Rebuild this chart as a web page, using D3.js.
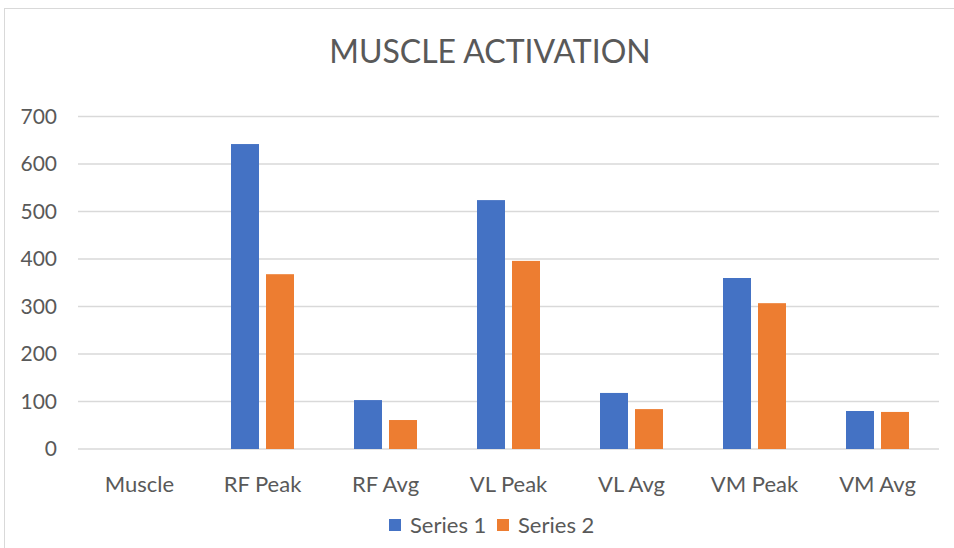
<!DOCTYPE html>
<html>
<head>
<meta charset="utf-8">
<script src="https://cdn.jsdelivr.net/npm/d3@7"></script>
<style>
  body { margin: 0; background: #fff; }
  svg { display: block; font-family: Lato, "Open Sans", sans-serif; }
</style>
</head>
<body>
<div id="chart"></div>
<script>
// data
const categories = ["Muscle", "RF Peak", "RF Avg", "VL Peak", "VL Avg", "VM Peak", "VM Avg"];
const series1 = [null, 642, 103, 524, 118, 360, 80];
const series2 = [null, 368, 61, 396, 84, 307, 78];
const seriesNames = ["Series 1", "Series 2"];
const yTicks = [0, 100, 200, 300, 400, 500, 600, 700];

const W = 954, H = 548;
const margin = { top: 116.5, left: 78, right: 15, bottom: 99 };
const width = W - margin.left - margin.right,
  height = H - margin.top - margin.bottom;

const svg = d3.select("#chart").append("svg")
  .attr("width", W)
  .attr("height", H);

// chart border
svg.append("rect")
  .attr("x", 4.5).attr("y", 8.5)
  .attr("width", W + 20).attr("height", H + 20)
  .attr("fill", "none")
  .attr("stroke", "#d9d9d9");

svg.append("text")
  .attr("x", 490).attr("y", 63)
  .attr("text-anchor", "middle")
  .attr("fill", "#595959")
  .attr("font-size", 32)
  .text("MUSCLE ACTIVATION");

const g = svg.append("g").attr("transform", `translate(${margin.left},${margin.top})`);

const x = d3.scaleBand().domain(categories).range([0, width])
  .paddingInner(60 / 123).paddingOuter(30 / 123);
const xSub = d3.scaleBand().domain(seriesNames).range([0, x.bandwidth()]).paddingInner(0.2);
const y = d3.scaleLinear().domain([0, 700]).range([height, 0]);
const color = d3.scaleOrdinal().domain(seriesNames).range(["#4472c4", "#ed7d31"]);

// gridlines
g.append("g")
  .selectAll("line")
  .data(yTicks)
  .join("line")
  .attr("x1", 0).attr("x2", width)
  .attr("y1", d => y(d)).attr("y2", d => y(d))
  .attr("stroke", "#d9d9d9")
  .attr("stroke-width", 1.5);

// y axis labels
const yAxis = g.append("g")
  .call(d3.axisLeft(y).tickValues(yTicks).tickSize(0).tickPadding(21));
yAxis.select(".domain").remove();
yAxis.selectAll("text")
  .attr("font-family", "Lato, sans-serif")
  .attr("font-size", 21)
  .attr("fill", "#595959");

// x axis labels
const xAxis = g.append("g")
  .attr("transform", `translate(0,${height})`)
  .call(d3.axisBottom(x).tickSize(0).tickPadding(27));
xAxis.select(".domain").remove();
xAxis.selectAll("text")
  .attr("font-family", "Lato, sans-serif")
  .attr("font-size", 22)
  .attr("fill", "#595959");

// bars
const rows = categories.map((c, i) => ({ cat: c, values: [series1[i], series2[i]] }));
g.append("g")
  .selectAll("g")
  .data(rows)
  .join("g")
  .attr("transform", d => `translate(${x(d.cat)},0)`)
  .selectAll("rect")
  .data(d => d.values.map((v, j) => ({ key: seriesNames[j], value: v })).filter(d => d.value != null))
  .join("rect")
  .attr("x", d => xSub(d.key))
  .attr("y", d => y(d.value))
  .attr("width", xSub.bandwidth())
  .attr("height", d => height - y(d.value))
  .attr("fill", d => color(d.key));

// legend
const legend = svg.append("g").attr("transform", "translate(389,519)");
const items = legend.selectAll("g")
  .data(seriesNames)
  .join("g")
  .attr("transform", (d, i) => `translate(${i * 108},0)`);
items.append("rect")
  .attr("width", 12).attr("height", 12)
  .attr("fill", d => color(d));
items.append("text")
  .attr("x", 21).attr("y", 14)
  .attr("font-size", 22)
  .attr("fill", "#595959")
  .text(d => d);
</script>
</body>
</html>
